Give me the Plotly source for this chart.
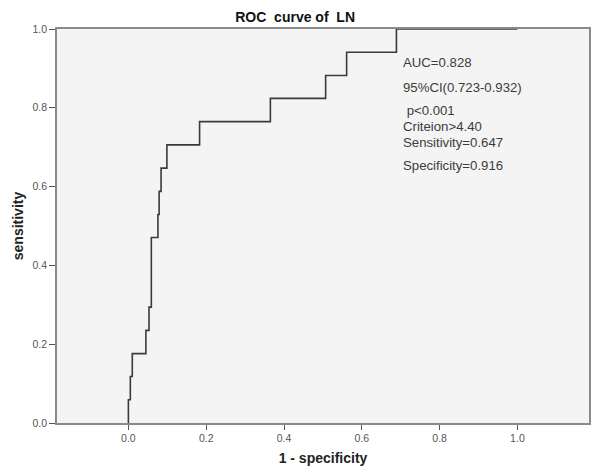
import plotly.graph_objects as go

# ROC points (step curve, vertical then horizontal)
fpr = [0.0, 0.005, 0.010, 0.045, 0.053, 0.059, 0.059, 0.059, 0.076, 0.079,
       0.084, 0.099, 0.183, 0.365, 0.507, 0.561, 0.689, 1.0]
tpr = [0.0, 0.059, 0.118, 0.176, 0.235, 0.294, 0.353, 0.412, 0.471, 0.529,
       0.588, 0.647, 0.706, 0.765, 0.824, 0.882, 0.941, 1.0]

stats_text = ["AUC=0.828", "95%CI(0.723-0.932)", " p<0.001",
              "Criteion>4.40", "Sensitivity=0.647", "Specificity=0.916"]
stats_y = [0.914, 0.851, 0.794, 0.753, 0.711, 0.654]

ticks = [0.0, 0.2, 0.4, 0.6, 0.8, 1.0]
tick_text = ["0.0", "0.2", "0.4", "0.6", "0.8", "1.0"]

font = "Arial, Liberation Sans, sans-serif"

fig = go.Figure()
fig.add_trace(go.Scatter(x=fpr, y=tpr, mode="lines", line_shape="vh",
                         line=dict(color="#3a3a3a", width=1.6),
                         showlegend=False, cliponaxis=False))

for t, yy in zip(stats_text, stats_y):
    fig.add_annotation(x=0.701, y=yy, xref="x", yref="y", text=t,
                       showarrow=False, xanchor="left", yanchor="middle",
                       font=dict(family=font, size=13.2, color="#3c3c3c"))

# page body has an 8px margin, so the figure is a bit smaller than the window
fig.update_layout(
    width=592, height=467,
    margin=dict(l=44, r=9, t=21, b=52),
    paper_bgcolor="white", plot_bgcolor="#f4f4f4",
    title=dict(text="<b>ROC  curve of  LN</b>", x=0.485, xanchor="center",
               y=0.981, yanchor="middle",
               font=dict(family=font, size=14, color="#111")),
    font=dict(family=font),
)
fig.update_xaxes(range=[-0.1835, 1.184], tickvals=ticks, ticktext=tick_text,
                 ticks="outside", ticklen=5, tickcolor="#555",
                 showgrid=False, zeroline=False,
                 showline=True, linecolor="#8a8a8a", linewidth=1.5, mirror=True,
                 tickfont=dict(size=10.5, color="#555"),
                 title=dict(text="<b>1 - specificity</b>", standoff=10,
                            font=dict(size=14, color="#222")))
fig.update_yaxes(range=[0, 1], tickvals=ticks, ticktext=tick_text,
                 ticks="outside", ticklen=6, tickcolor="#555",
                 showgrid=False, zeroline=False,
                 showline=True, linecolor="#8a8a8a", linewidth=1.5, mirror=True,
                 tickfont=dict(size=10.5, color="#555"),
                 title=dict(text="<b>sensitivity</b>", standoff=6,
                            font=dict(size=14, color="#222")))

fig.write_html("out.html")
